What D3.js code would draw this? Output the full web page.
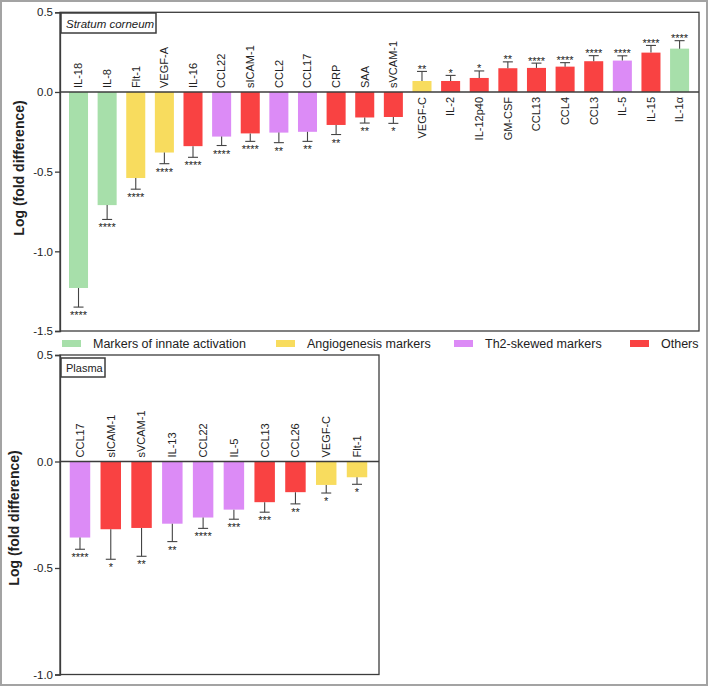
<!DOCTYPE html>
<html><head><meta charset="utf-8">
<script src="https://cdn.jsdelivr.net/npm/d3@7"></script>
<style>body{margin:0;background:#fff}svg{display:block}text{font-family:"Liberation Sans",Arial,sans-serif;fill:#222}</style>
</head><body><svg id="c" width="709" height="686"></svg>
<script>
// ---------- DATA ----------
const groupNames = ["Markers of innate activation", "Angiogenesis markers", "Th2-skewed markers", "Others"];
const groupColors = ["#a7dfaa", "#f8dc5e", "#dc8bf6", "#f94242"];

const scCategories = ["IL-18","IL-8","Flt-1","VEGF-A","IL-16","CCL22","sICAM-1","CCL2","CCL17","CRP","SAA","sVCAM-1","VEGF-C","IL-2","IL-12p40","GM-CSF","CCL13","CCL4","CCL3","IL-5","IL-15","IL-1\u03b1"];
const scValues = [-1.23,-0.71,-0.54,-0.38,-0.34,-0.28,-0.26,-0.255,-0.25,-0.207,-0.16,-0.157,0.069,0.069,0.088,0.149,0.151,0.159,0.193,0.197,0.247,0.272];
const scErrors = [0.12,0.09,0.07,0.07,0.07,0.056,0.05,0.063,0.06,0.06,0.035,0.04,0.06,0.035,0.044,0.04,0.03,0.025,0.035,0.03,0.045,0.05];
const scStars = ["****","****","****","****","****","****","****","**","**","**","**","*","**","*","*","**","****","****","****","****","****","****"];
const scGroups = [0,0,1,1,3,2,3,2,2,3,3,3,1,3,3,3,3,3,3,2,3,0];
const scTicks = [0.5, 0.0, -0.5, -1.0, -1.5];

const plCategories = ["CCL17","sICAM-1","sVCAM-1","IL-13","CCL22","IL-5","CCL13","CCL26","VEGF-C","Flt-1"];
const plValues = [-0.357,-0.318,-0.312,-0.292,-0.263,-0.226,-0.191,-0.144,-0.11,-0.074];
const plErrors = [0.055,0.141,0.133,0.084,0.051,0.045,0.047,0.055,0.038,0.033];
const plStars = ["****","*","**","**","****","***","***","**","*","*"];
const plGroups = [2,3,3,2,2,2,3,3,1,1];
const plTicks = [0.5, 0.0, -0.5, -1.0];

const titleText = "Log (fold difference)";

// ---------- DRAW ----------
const svg = d3.select("#c");
svg.append("rect").attr("x",1).attr("y",1).attr("width",706).attr("height",684)
  .attr("fill","#fff").attr("stroke","#a3a3a3").attr("stroke-width",2);

function panel(o){
  const g = svg.append("g");
  const y = d3.scaleLinear().domain(o.domain).range([o.bottom, o.top]);
  const x = d3.scaleBand().domain(o.cats).range(o.xr).paddingInner(0.335).paddingOuter(0.1675);
  g.append("rect").attr("x",o.left).attr("y",o.top).attr("width",o.right-o.left).attr("height",o.bottom-o.top)
    .attr("fill","none").attr("stroke","#3c3c3c").attr("stroke-width",1.3);
  const ax = g.append("g").attr("transform",`translate(${o.left},0)`)
    .call(d3.axisLeft(y).tickValues(o.ticks).tickFormat(d=>d.toFixed(1)).tickSize(5).tickPadding(2));
  ax.select(".domain").attr("stroke","#3c3c3c").attr("stroke-width",1.3);
  ax.selectAll(".tick line").attr("stroke","#3c3c3c").attr("stroke-width",1.3);
  ax.selectAll(".tick text").style("font-size","11.5px").attr("fill","#222").style("font-family",'"Liberation Sans",Arial,sans-serif');
  const y0 = y(0);
  g.selectAll(".bar").data(o.cats).join("rect")
    .attr("x",d=>x(d)).attr("width",x.bandwidth())
    .attr("y",(d,i)=>Math.min(y(o.vals[i]),y0))
    .attr("height",(d,i)=>Math.abs(y(o.vals[i])-y0))
    .attr("fill",(d,i)=>groupColors[o.groups[i]]);
  g.append("line").attr("x1",o.left).attr("x2",o.right).attr("y1",y0).attr("y2",y0)
    .attr("stroke","#3c3c3c").attr("stroke-width",1.3);
  o.cats.forEach((c,i)=>{
    const cx = x(c)+x.bandwidth()/2;
    const v = o.vals[i], e = o.errs[i];
    const ve = v<0 ? v-e : v+e;
    g.append("line").attr("x1",cx).attr("x2",cx).attr("y1",y(v)).attr("y2",y(ve)).attr("stroke","#444").attr("stroke-width",1.1);
    g.append("line").attr("x1",cx-5).attr("x2",cx+5).attr("y1",y(ve)).attr("y2",y(ve)).attr("stroke","#444").attr("stroke-width",1.1);
    g.append("text").attr("x",cx).attr("y", v<0 ? y(ve)+12 : y(ve)+1.5)
      .attr("text-anchor","middle").style("font-size","11px").text(o.stars[i]);
    const ly = v<0 ? y0-4 : y0+5;
    g.append("text").attr("transform",`translate(${cx},${ly}) rotate(-90)`)
      .attr("text-anchor", v<0 ? "start" : "end").attr("dy","0.35em")
      .style("font-size","11px").text(c);
  });
  g.append("rect").attr("x",o.tag.x).attr("y",o.tag.y).attr("width",o.tag.w).attr("height",o.tag.h)
    .attr("fill","#fff").attr("stroke","#3c3c3c").attr("stroke-width",1.5);
  g.append("text").attr("x",o.tag.x+5).attr("y",o.tag.y+o.tag.h-5.5)
    .style("font-size",o.tag.fs).style("font-style",o.tag.italic?"italic":"normal").text(o.tag.text);
  g.append("text").attr("transform",`translate(${o.titleX},${o.titleY}) rotate(-90)`)
    .attr("text-anchor","middle").attr("dy","0.35em")
    .style("font-size","14px").style("font-weight","bold").text(titleText);
  return {x,y};
}

panel({cats:scCategories, vals:scValues, errs:scErrors, stars:scStars, groups:scGroups, ticks:scTicks,
  domain:[-1.5,0.5], left:60, right:699, top:12.3, bottom:331, xr:[64.2,693.9],
  tag:{x:61,y:13,w:95,h:20,text:"Stratum corneum",italic:true,fs:"11.5px"}, titleX:19, titleY:168});

panel({cats:plCategories, vals:plValues, errs:plErrors, stars:plStars, groups:plGroups, ticks:plTicks,
  domain:[-1.0,0.5], left:60, right:379, top:355, bottom:674.5, xr:[64.6,372.4],
  tag:{x:61,y:358,w:44,h:19,text:"Plasma",italic:false,fs:"11px"}, titleX:14, titleY:518});

const legX = [62, 276, 454, 630];
const leg = svg.append("g");
groupNames.forEach((n,i)=>{
  leg.append("rect").attr("x",legX[i]).attr("y",340).attr("width",19).attr("height",7).attr("fill",groupColors[i]);
  leg.append("text").attr("x",legX[i]+31).attr("y",347.5).style("font-size","12.5px").text(n);
});
</script></body></html>
